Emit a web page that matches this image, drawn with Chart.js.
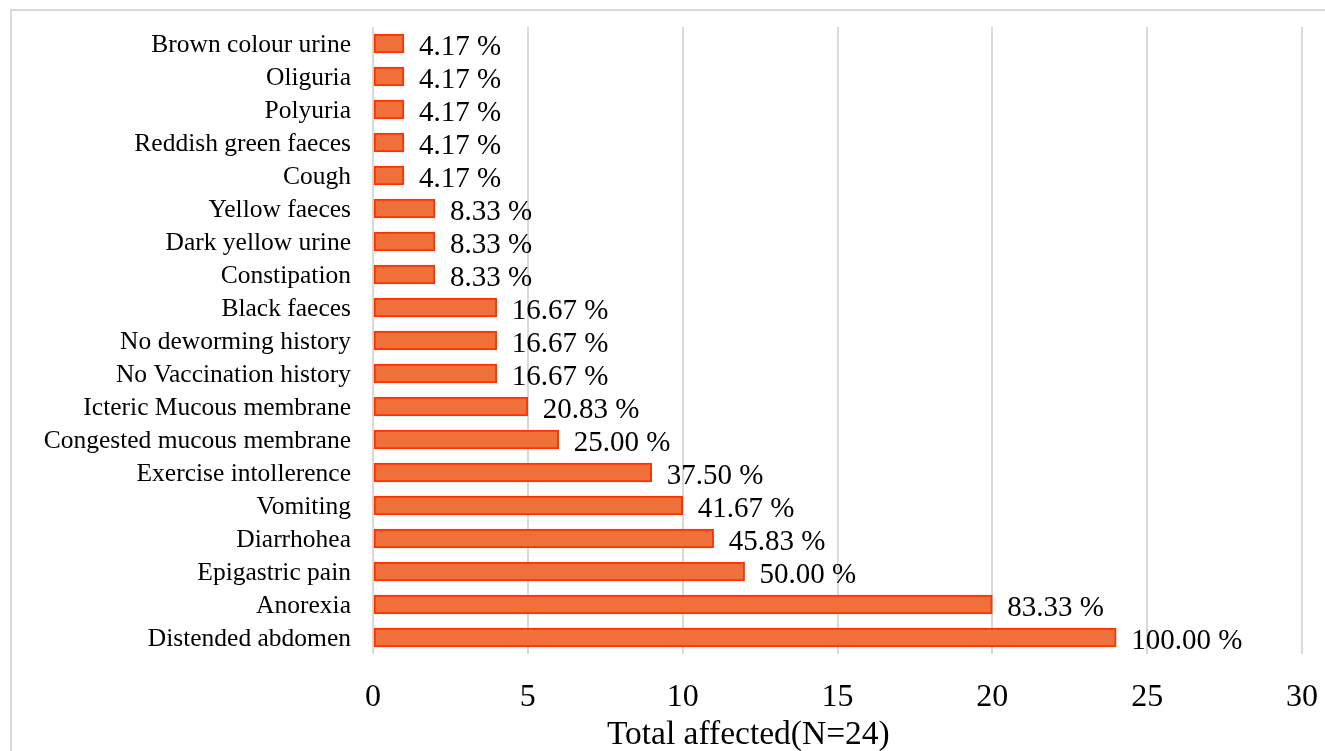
<!DOCTYPE html>
<html>
<head>
<meta charset="utf-8">
<script src="https://cdn.jsdelivr.net/npm/chart.js@4/dist/chart.umd.min.js"></script>
<style>
  html, body { margin: 0; padding: 0; background: #fff; overflow: hidden; }
  #wrap { position: relative; width: 1325px; height: 751px; }
  #frame { position: absolute; left: 10px; top: 9px; width: 1400px; height: 800px; border: 2px solid #d9d9d9; box-sizing: border-box; }
  canvas { position: absolute; left: 0; top: 0; }
</style>
</head>
<body>
<div id="wrap">
  <div id="frame"></div>
  <canvas id="c" width="1325" height="751"></canvas>
</div>
<script>
const categories = [
  "Brown colour urine", "Oliguria", "Polyuria", "Reddish green faeces", "Cough",
  "Yellow faeces", "Dark yellow urine", "Constipation", "Black faeces",
  "No deworming history", "No Vaccination history", "Icteric Mucous membrane",
  "Congested mucous membrane", "Exercise intollerence", "Vomiting", "Diarrhohea",
  "Epigastric pain", "Anorexia", "Distended abdomen"
];
const totalAffected = [1, 1, 1, 1, 1, 2, 2, 2, 4, 4, 4, 5, 6, 9, 10, 11, 12, 20, 24];
const percentLabels = [
  "4.17 %", "4.17 %", "4.17 %", "4.17 %", "4.17 %",
  "8.33 %", "8.33 %", "8.33 %", "16.67 %", "16.67 %", "16.67 %", "20.83 %",
  "25.00 %", "37.50 %", "41.67 %", "45.83 %", "50.00 %", "83.33 %", "100.00 %"
];
const xTicks = [0, 5, 10, 15, 20, 25, 30];
const axisTitle = "Total affected(N=24)";

const FONT = "'Liberation Serif', 'Times New Roman', serif";

const valueLabels = {
  id: 'valueLabels',
  afterDatasetsDraw(chart) {
    const ctx = chart.ctx;
    const meta = chart.getDatasetMeta(0);
    ctx.save();
    ctx.font = "29px " + FONT;
    ctx.fillStyle = "#000";
    ctx.textAlign = "left";
    ctx.textBaseline = "middle";
    meta.data.forEach((el, i) => {
      ctx.fillText(percentLabels[i], el.x + 15, el.y + 3.5);
    });
    ctx.restore();
  }
};

const axisTitlePlugin = {
  id: 'axisTitlePlugin',
  afterDraw(chart) {
    const ctx = chart.ctx;
    const a = chart.chartArea;
    ctx.save();
    ctx.font = "33.5px " + FONT;
    ctx.fillStyle = "#000";
    ctx.textAlign = "center";
    ctx.textBaseline = "middle";
    ctx.fillText(axisTitle, a.left + (a.right - a.left) * 0.404, a.bottom + 81);
    ctx.restore();
  }
};

new Chart(document.getElementById('c'), {
  type: 'bar',
  data: {
    labels: categories,
    datasets: [{
      data: totalAffected,
      backgroundColor: '#F0703A',
      borderColor: '#FF3300',
      borderWidth: 2,
      borderSkipped: false,
      barThickness: 19
    }]
  },
  options: {
    indexAxis: 'y',
    responsive: false,
    animation: false,
    devicePixelRatio: 1,
    layout: { padding: { top: 27, right: 23, left: 0, bottom: 0 } },
    plugins: { legend: { display: false }, tooltip: { enabled: false } },
    scales: {
      x: {
        min: 0, max: 30,
        afterBuildTicks(scale) { scale.ticks = xTicks.map(v => ({ value: v })); },
        afterFit(scale) {
          scale.height = 97;
          scale.paddingLeft = 0; scale.paddingRight = 0;
        },
        grid: { color: '#d9d9d9', lineWidth: 2, drawTicks: false },
        border: { display: false },
        ticks: { color: '#000', padding: 24, autoSkip: false, maxRotation: 0, font: { family: FONT, size: 32 } }
      },
      y: {
        afterFit(scale) {
          scale.width = 373;
          scale.paddingTop = 0; scale.paddingBottom = 0;
        },
        grid: { display: false, drawTicks: false },
        border: { display: false },
        ticks: { color: '#000', padding: 22, labelOffset: 2, autoSkip: false, font: { family: FONT, size: 25.5 } }
      }
    }
  },
  plugins: [valueLabels, axisTitlePlugin]
});
</script>
</body>
</html>
